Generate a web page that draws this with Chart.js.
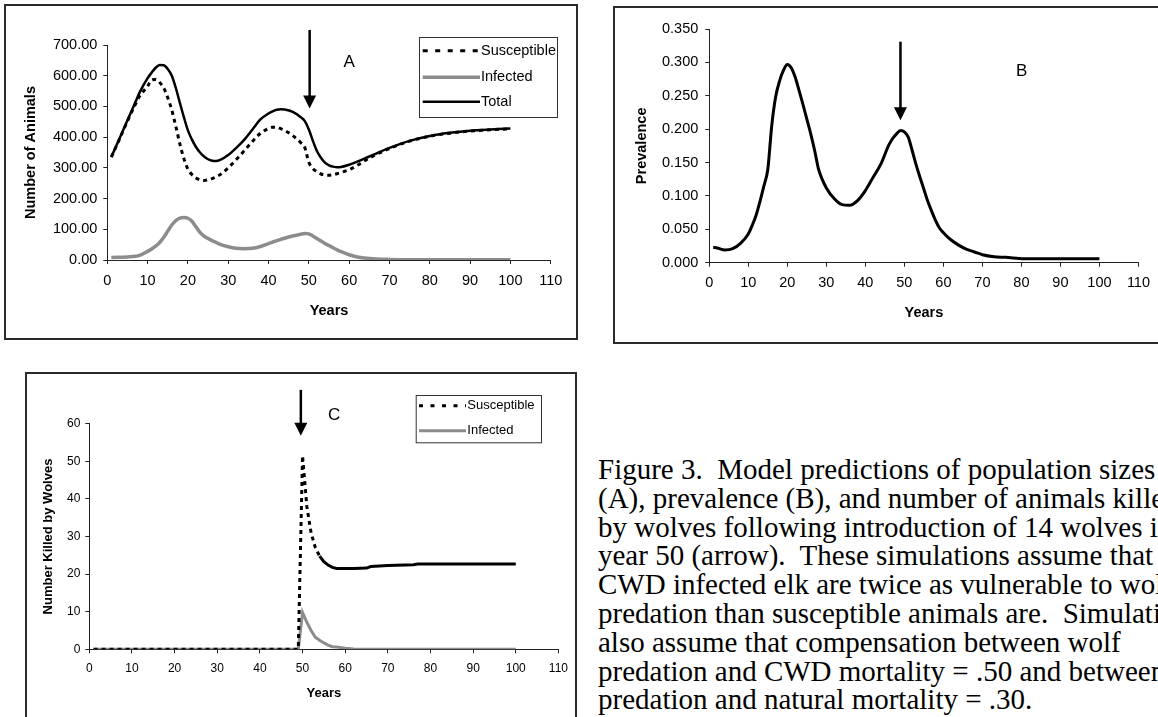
<!DOCTYPE html>
<html>
<head>
<meta charset="utf-8">
<title>Figure 3</title>
<script src="https://cdn.jsdelivr.net/npm/chart.js@4.4.1/dist/chart.umd.min.js"></script>
<style>
  html, body { margin: 0; padding: 0; background: #fff; }
  body { width: 1158px; height: 717px; position: relative; overflow: hidden; }
  .frame { position: absolute; border: 2px solid #2b2b2b; box-sizing: border-box; }
  canvas { position: absolute; }
  #caption {
    position: absolute; left: 598px; top: 455px;
    font-family: "Liberation Serif", "Times New Roman", serif;
    font-size: 29px; line-height: 28.8px; white-space: nowrap; color: #000;
  }
</style>
</head>
<body>
<div class="frame" style="left:4px;top:4px;width:574px;height:336px"></div>
<div class="frame" style="left:613px;top:6px;width:600px;height:338px"></div>
<div class="frame" style="left:25px;top:372px;width:552px;height:400px"></div>
<canvas id="chartA" width="572" height="334" style="left:5px;top:5px;width:572px;height:334px"></canvas>
<canvas id="chartB" width="544" height="336" style="left:614px;top:7px;width:544px;height:336px"></canvas>
<canvas id="chartC" width="550" height="344" style="left:26px;top:373px;width:550px;height:344px"></canvas>
<div id="caption">
Figure 3.&nbsp; Model predictions of population sizes<br>
(A), prevalence (B), and number of animals killed<br>
by wolves following introduction of 14 wolves in<br>
year 50 (arrow).&nbsp; These simulations assume that<br>
CWD infected elk are twice as vulnerable to wolf<br>
predation than susceptible animals are.&nbsp; Simulations<br>
also assume that compensation between wolf<br>
predation and CWD mortality = .50 and between wolf<br>
predation and natural mortality = .30.
</div>
<script>
// ---- data ----
// Panel A: population sizes
const yearsA = [1, 3, 5, 7, 8, 10, 11, 12, 13, 14, 15, 16, 17, 18, 19, 20, 21, 22, 23, 24, 25, 26, 27, 28,
  30, 32, 34, 36, 38, 40, 41, 42, 43, 44, 46, 48, 49, 50, 51, 52, 53, 54, 55, 56, 57, 58, 60, 62, 65,
  70, 75, 80, 85, 90, 95, 100];
const susceptibleA = [335, 393, 452, 508, 533, 566, 586, 588, 578, 560, 528, 488, 435, 378, 330, 296, 278, 267, 261, 259, 261, 265, 271, 278,
  300, 327, 356, 386, 413, 428, 432, 432, 428, 422, 405, 382, 366, 318, 298, 287, 280, 277, 276, 278, 281, 285, 294, 308, 332,
  363, 387, 403, 413, 420, 424, 427];
const infectedA = [8, 9, 10, 12, 15, 28, 36, 45, 57, 74, 94, 114, 128, 136, 138, 136, 126, 108, 90, 78, 70, 63, 57, 51,
  43, 38, 37, 38, 44, 53, 58, 63, 67, 71, 78, 84, 86, 85, 78, 70, 62, 54, 47, 40, 33, 27, 17, 10, 5,
  2, 1, 1, 1, 1, 1, 1];
const totalA = [335, 395, 455, 515, 545, 592, 610, 626, 635, 634, 622, 600, 560, 512, 465, 422, 392, 368, 350, 337, 328, 323, 322, 326,
  342, 365, 392, 425, 458, 477, 484, 489, 491, 490, 482, 465, 452, 425, 388, 355, 333, 317, 308, 304, 302, 303, 310, 320, 337,
  365, 388, 404, 414, 421, 425, 428];

// Panel B: prevalence
const yearsB = [1, 2, 4, 6, 8, 10, 11, 12, 13, 14, 15, 16, 17, 18, 19, 20, 21, 22, 23, 24, 25, 26, 27, 28, 29, 30,
  32, 34, 36, 38, 40, 42, 44, 46, 47, 48, 49, 50, 51, 52, 53, 54, 55, 56, 57, 58, 59, 60,
  62, 64, 66, 68, 70, 73, 76, 78, 80, 90, 100];
const prevalenceB = [0.023, 0.022, 0.019, 0.021, 0.029, 0.043, 0.056, 0.071, 0.092, 0.115, 0.140, 0.205, 0.248, 0.272, 0.288, 0.297,
  0.292, 0.278, 0.258, 0.237, 0.215, 0.193, 0.168, 0.140, 0.124, 0.112,
  0.096, 0.087, 0.086, 0.093, 0.108, 0.128, 0.148, 0.176, 0.186, 0.193, 0.198, 0.196, 0.188, 0.168, 0.147, 0.128, 0.110, 0.092,
  0.077, 0.063, 0.052, 0.045, 0.034, 0.026, 0.020, 0.016, 0.012, 0.009, 0.008, 0.007, 0.006, 0.006, 0.006];

// Panel C: number killed by wolves
const yearsC = [1, 10, 20, 30, 40, 48, 49, 50, 51, 52, 53, 54, 55, 56, 57, 58, 60, 62, 65, 66, 70, 76, 77, 80, 90, 100];
const susceptibleC = [0, 0, 0, 0, 0, 0, 0, 51.5, 38, 31, 27, 24.8, 23.3, 22.4, 21.8, 21.5, 21.5, 21.5, 21.6, 22.0, 22.3, 22.5, 22.7, 22.7, 22.7, 22.7];
const infectedC = [0, 0, 0, 0, 0, 0, 0, 9.8, 7.2, 5, 3.2, 2.4, 1.7, 1.1, 0.7, 0.6, 0.3, 0.1, 0, 0, 0, 0, 0, 0, 0, 0];

const xTicks = { min: 0, max: 110, step: 10 };

// ---- helpers ----
const FONT = '"Liberation Sans", Arial, sans-serif';
const GRAY = '#8c8c8c';

function pts(xs, ys) {
  return xs.map((x, i) => ({ x: x, y: ys[i] }));
}

function axis(o) {
  return {
    type: 'linear',
    min: o.min,
    max: o.max,
    ticks: {
      stepSize: o.step, autoSkip: false, maxRotation: 0, color: '#000',
      font: { family: FONT, size: o.tickSize }, padding: o.tickPad,
      callback: o.fmt || (v => v)
    },
    grid: { display: true, drawOnChartArea: false, drawTicks: true, tickLength: 4, color: '#222', lineWidth: 1 },
    border: { display: true, color: '#222', width: 1 },
    title: {
      display: true, text: o.title, color: '#000',
      font: { family: FONT, size: o.titleSize, weight: 'bold' }, padding: o.titlePad
    },
    afterFit: o.afterFit
  };
}

// arrows, panel letters and boxed legends
const decor = {
  id: 'decor',
  afterDatasetsDraw(chart, args, o) {
    const { ctx } = chart;
    const x = chart.scales.x, y = chart.scales.y;
    ctx.save();
    // arrow
    const ax = x.getPixelForValue(o.arrow.year);
    const y0 = y.getPixelForValue(o.arrow.from);
    const y1 = y.getPixelForValue(o.arrow.to);
    ctx.strokeStyle = '#000';
    ctx.fillStyle = '#000';
    ctx.lineWidth = 2.5;
    ctx.beginPath();
    ctx.moveTo(ax, y0);
    ctx.lineTo(ax, y1 - 10);
    ctx.stroke();
    ctx.beginPath();
    ctx.moveTo(ax - 6.5, y1 - 13);
    ctx.lineTo(ax + 6.5, y1 - 13);
    ctx.lineTo(ax, y1);
    ctx.closePath();
    ctx.fill();
    // letter
    ctx.font = '17px ' + FONT;
    ctx.textAlign = 'center';
    ctx.textBaseline = 'middle';
    ctx.fillText(o.letter.text, x.getPixelForValue(o.letter.year), y.getPixelForValue(o.letter.value));
    // legend
    if (o.legend) {
      const L = o.legend;
      ctx.lineWidth = 1;
      ctx.strokeStyle = '#333';
      ctx.strokeRect(L.x + 0.5, L.y + 0.5, L.w, L.h);
      ctx.font = L.size + 'px ' + FONT;
      ctx.textAlign = 'left';
      chart.data.datasets.forEach((ds, i) => {
        const ry = L.rows[i];
        ctx.save();
        ctx.strokeStyle = ds.borderColor;
        ctx.lineWidth = ds.borderWidth;
        ctx.setLineDash(ds.borderDash ? L.dash : []);
        ctx.beginPath();
        ctx.moveTo(L.x0, ry);
        ctx.lineTo(L.x1, ry);
        ctx.stroke();
        ctx.restore();
        ctx.fillStyle = '#000';
        ctx.fillText(ds.label, L.tx, ry);
      });
    }
    ctx.restore();
  }
};

function makeChart(id, p) {
  const cv = document.getElementById(id);
  return new Chart(cv, {
    type: 'line',
    data: { datasets: p.datasets },
    options: {
      responsive: false,
      animation: false,
      events: [],
      layout: { padding: { left: 0, top: p.plot.top, right: cv.width - p.plot.right, bottom: 0 } },
      elements: { point: { radius: 0 }, line: { cubicInterpolationMode: p.smooth ? 'monotone' : 'default', tension: 0 } },
      scales: {
        x: axis(Object.assign({}, xTicks, p.x, { afterFit: s => { s.height = cv.height - p.plot.bottom; } })),
        y: axis(Object.assign({}, p.y, { afterFit: s => { s.width = p.plot.left; } }))
      },
      plugins: { legend: { display: false }, tooltip: { enabled: false }, decor: p.decor }
    },
    plugins: [decor]
  });
}

// ---- Panel A ----
makeChart('chartA', {
  plot: { left: 102.3, top: 40, right: 545.7, bottom: 255 },
  smooth: true,
  x: { tickSize: 14.5, tickPad: 8, title: 'Years', titleSize: 14.5, titlePad: { top: 0, bottom: 19.6 } },
  y: { min: 0, max: 700, step: 100, fmt: v => v.toFixed(2), tickSize: 14.5, tickPad: 6,
       title: 'Number of Animals', titleSize: 14.5, titlePad: { top: 17.6, bottom: 0 } },
  datasets: [
    { label: 'Susceptible', data: pts(yearsA, susceptibleA), borderColor: '#000', borderWidth: 3, borderDash: [4, 4] },
    { label: 'Infected', data: pts(yearsA, infectedA), borderColor: GRAY, borderWidth: 3.5 },
    { label: 'Total', data: pts(yearsA, totalA), borderColor: '#000', borderWidth: 2.5 }
  ],
  decor: {
    arrow: { year: 50.2, from: 749, to: 493 },
    letter: { text: 'A', year: 60, value: 645 },
    legend: { x: 414, y: 32, w: 138, h: 80, rows: [45.7, 72.3, 96.7], x0: 417.7, x1: 475, tx: 476, size: 14.5, dash: [5, 7.5] }
  }
});

// ---- Panel B ----
makeChart('chartB', {
  plot: { left: 95.3, top: 22, right: 528.3, bottom: 255.7 },
  smooth: true,
  x: { tickSize: 14.5, tickPad: 8, title: 'Years', titleSize: 14.5, titlePad: { top: 0, bottom: 21.6 } },
  y: { min: 0, max: 0.35, step: 0.05, fmt: v => v.toFixed(3), tickSize: 14.5, tickPad: 7,
       title: 'Prevalence', titleSize: 14.5, titlePad: { top: 19.6, bottom: 0 } },
  datasets: [
    { label: 'Prevalence', data: pts(yearsB, prevalenceB), borderColor: '#000', borderWidth: 3 }
  ],
  decor: {
    arrow: { year: 49, from: 0.331, to: 0.2135 },
    letter: { text: 'B', year: 80.1, value: 0.286 }
  }
});

// ---- Panel C ----
makeChart('chartC', {
  plot: { left: 63.3, top: 50.7, right: 538, bottom: 276.3 },
  smooth: false,
  x: { tickSize: 12, tickPad: 8, title: 'Years', titleSize: 13, titlePad: { top: 0, bottom: 16.2 } },
  y: { min: 0, max: 60, step: 10, tickSize: 12, tickPad: 5,
       title: 'Number Killed by Wolves', titleSize: 13, titlePad: { top: 14.2, bottom: 0 } },
  datasets: [
    { label: 'Susceptible', data: pts(yearsC, susceptibleC), borderColor: '#000', borderWidth: 3, borderDash: [4, 4],
      segment: { borderDash: c => (c.p0.parsed.x >= 54 ? [] : [4, 4]) } },
    { label: 'Infected', data: pts(yearsC, infectedC), borderColor: GRAY, borderWidth: 3 }
  ],
  decor: {
    arrow: { year: 49.6, from: 69, to: 56.8 },
    letter: { text: 'C', year: 57.4, value: 62.1 },
    legend: { x: 389.7, y: 22, w: 125.3, h: 47.3, rows: [32.7, 57.7], x0: 393, x1: 440, tx: 441.3, size: 13, dash: [4, 7.5] }
  }
});
</script>
</body>
</html>
